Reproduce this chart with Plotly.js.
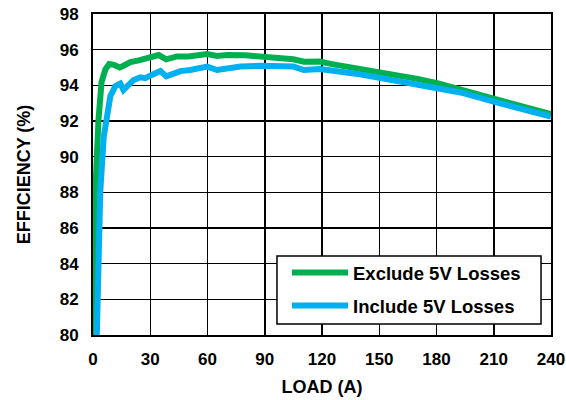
<!DOCTYPE html>
<html>
<head>
<meta charset="utf-8">
<script src="https://cdn.plot.ly/plotly-3.0.1.min.js"></script>
<style>html,body{margin:0;padding:0;background:#fff}#chart{width:566px;height:400px}</style>
</head>
<body>
<div id="chart"></div>
<script>
const loadExclude = [0.3, 1.2, 2.9, 4.5, 6.5, 8.5, 11, 14, 16, 19.6, 24, 30, 34.4, 38.4, 44, 50, 55, 59.8, 65, 70.3, 80, 88, 98, 105, 110.5, 119, 124.5, 138.5, 150.7, 170, 180.4, 192.6, 210, 222.4, 240];
const effExclude  = [80.0, 88.0, 92.1, 94.2, 94.9, 95.2, 95.15, 95.0, 95.1, 95.3, 95.4, 95.6, 95.7, 95.46, 95.62, 95.62, 95.68, 95.75, 95.65, 95.7, 95.68, 95.62, 95.57, 95.46, 95.32, 95.33, 95.2, 94.96, 94.68, 94.36, 94.12, 93.78, 93.28, 92.9, 92.38];
const loadInclude = [2.0, 3.8, 5.6, 7.5, 9.1, 11.7, 14.3, 16, 18.5, 21.3, 24.8, 27.4, 31, 35.3, 38.4, 45.8, 51, 59.8, 65, 77.3, 88, 98.2, 105, 110.5, 119, 138.5, 150.7, 170, 180.4, 192.6, 210, 222.4, 240];
const effInclude  = [80.0, 88.0, 91.1, 92.7, 93.4, 93.95, 94.1, 93.74, 94.05, 94.3, 94.45, 94.4, 94.6, 94.8, 94.5, 94.8, 94.86, 95.05, 94.86, 95.05, 95.1, 95.12, 95.05, 94.86, 94.92, 94.64, 94.4, 94.08, 93.9, 93.6, 93.09, 92.72, 92.25];
const seriesNames = ["Exclude 5V Losses", "Include 5V Losses"];
const xTicks = [0, 30, 60, 90, 120, 150, 180, 210, 240];
const yTicks = [80, 82, 84, 86, 88, 90, 92, 94, 96, 98];

const fam = "Liberation Sans, Arial, sans-serif";
const traces = [
  {x: loadExclude, y: effExclude, name: seriesNames[0], mode: "lines", legendgroup: "a",
   line: {color: "#00b050", width: 6, shape: "linear"}},
  {x: loadInclude, y: effInclude, name: seriesNames[1], mode: "lines", legendgroup: "b",
   line: {color: "#00b0f0", width: 6, shape: "linear"}}
];
const layout = {
  width: 566, height: 400,
  margin: {l: 93, r: 15, t: 14, b: 65},
  paper_bgcolor: "#fff", plot_bgcolor: "#fff",
  font: {family: fam, size: 17, color: "#000"},
  showlegend: true,
  legend: {x: 0.4236, y: 0.2523, xanchor: "left", yanchor: "top",
    bgcolor: "rgba(0,0,0,0)", borderwidth: 0,
    font: {family: fam, size: 18.5, color: "#000", weight: "bold"},
    tracegroupgap: 6, itemwidth: 56},
  shapes: [{type: "rect", xref: "paper", yref: "paper", x0: 0.4017, x1: 0.9782, y0: 0.0343, y1: 0.2461,
    fillcolor: "#fff", line: {color: "#000", width: 1.5}, layer: "above"}],
  xaxis: {range: [0, 240], tickvals: xTicks, ticktext: xTicks.map(v => "<b>" + v + "</b>"),
    showgrid: true, gridcolor: "#000", gridwidth: 1.5, zeroline: false,
    showline: true, linecolor: "#000", linewidth: 2, mirror: true, ticks: "",
    ticklabelstandoff: 8,
    tickfont: {family: fam, size: 17, color: "#000"},
    title: {text: "<b>LOAD (A)</b>", font: {family: fam, size: 18, color: "#000"}, standoff: 12}},
  yaxis: {range: [80, 98], tickvals: yTicks, ticktext: yTicks.map(v => "<b>" + v + "</b>"),
    showgrid: true, gridcolor: "#000", gridwidth: 1.5, zeroline: false,
    showline: true, linecolor: "#000", linewidth: 2, mirror: true, ticks: "",
    ticklabelstandoff: 9,
    tickfont: {family: fam, size: 17, color: "#000"},
    title: {text: "<b>EFFICIENCY (%)</b>", font: {family: fam, size: 18, color: "#000"}, standoff: 24}}
};
Plotly.newPlot("chart", traces, layout, {displayModeBar: false, staticPlot: true});
</script>
</body>
</html>
